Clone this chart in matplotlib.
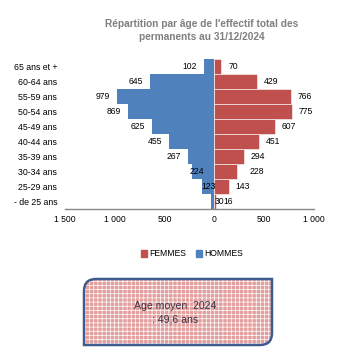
import numpy as np
import matplotlib.pyplot as plt
from matplotlib.path import Path
from matplotlib.patches import PathPatch, Patch
from matplotlib.ticker import FuncFormatter

plt.rcParams['font.family'] = ['Liberation Sans', 'DejaVu Sans']
plt.rcParams['hatch.color'] = 'white'
plt.rcParams['hatch.linewidth'] = 0.5

# age groups, from youngest (bottom) to oldest (top)
age_groups = ['- de 25 ans', '25-29 ans', '30-34 ans', '35-39 ans', '40-44 ans',
              '45-49 ans', '50-54 ans', '55-59 ans', '60-64 ans', '65 ans et +']
hommes = [30, 123, 224, 267, 455, 625, 869, 979, 645, 102]
femmes = [16, 143, 228, 294, 451, 607, 775, 766, 429, 70]
x_ticks = [-1500, -1000, -500, 0, 500, 1000]

BLUE = '#4f81bd'
RED = '#c0504d'
W, H = 339, 358

# extra shift (points) of some data labels, as placed in the original
men_nudge = [14, 15, 14, 0, 0, 0, 0, 0, 0, 0]
women_nudge = [0, 0, 4, 0, 0, 0, 0, 0, 0, 0]

fig = plt.figure(figsize=(W / 100, H / 100), dpi=100)
ax = fig.add_axes([65 / W, 1 - 209 / H, 249 / W, 150 / H])

y = np.arange(len(age_groups))
ax.barh(y, -np.array(hommes), height=1.0, color=BLUE, linewidth=0)
ax.barh(y, femmes, height=1.0, color=RED, edgecolor='white', linewidth=0.4)

for i in range(len(age_groups)):
    ax.annotate(str(hommes[i]), (-hommes[i], y[i]), xytext=(-5 + men_nudge[i], 0),
                textcoords='offset points', ha='right', va='center', fontsize=6.2)
    ax.annotate(str(femmes[i]), (femmes[i], y[i]), xytext=(5 + women_nudge[i], 0),
                textcoords='offset points', ha='left', va='center', fontsize=6.2)

ax.set_xlim(-1500, 1000)
ax.set_ylim(-0.5, len(age_groups) - 0.5)
ax.set_yticks(y)
ax.set_yticklabels(age_groups, fontsize=6.3)
ax.set_xticks(x_ticks)
ax.xaxis.set_major_formatter(FuncFormatter(lambda v, p: f"{abs(int(v)):,}".replace(',', ' ')))
ax.tick_params(axis='y', length=0, pad=5.5)
ax.tick_params(axis='x', length=0, pad=4, labelsize=6.2)
for s in ['top', 'right', 'left']:
    ax.spines[s].set_visible(False)
ax.spines['bottom'].set_color('#868686')
ax.spines['bottom'].set_linewidth(1.0)

fig.text(202 / W, 1 - 30.5 / H, "Répartition par âge de l'effectif total des\npermanents au 31/12/2024",
         ha='center', va='center', fontsize=7.3, fontweight='bold', color='#7f7f7f',
         linespacing=1.3)

handles = [Patch(color=RED, label='FEMMES'), Patch(color=BLUE, label='HOMMES')]
fig.legend(handles=handles, loc='center', bbox_to_anchor=(192 / W, 1 - 254 / H), ncol=2,
           frameon=False, fontsize=6.2, handlelength=0.7, handleheight=0.7,
           handletextpad=0.2, columnspacing=1.2)

# text box with the average age
bx = fig.add_axes([0, 0, 1, 1])
bx.set_xlim(0, W)
bx.set_ylim(H, 0)
bx.axis('off')
x0, x1, y0, y1, r = 84, 272, 279, 345, 12
verts = [(x0 + r, y0), (x1, y0), (x1, y1 - r), (x1, y1), (x1 - r, y1),
         (x0, y1), (x0, y0 + r), (x0, y0), (x0 + r, y0), (x0 + r, y0)]
codes = [Path.MOVETO, Path.LINETO, Path.LINETO, Path.CURVE3, Path.CURVE3,
         Path.LINETO, Path.LINETO, Path.CURVE3, Path.CURVE3, Path.CLOSEPOLY]
shape = Path(verts, codes)
bx.add_patch(PathPatch(shape, facecolor='#e39e9e', edgecolor='white', linewidth=0, hatch='+' * 4))
bx.add_patch(PathPatch(shape, facecolor='none', edgecolor='#3e5d8e', linewidth=1.8))
bx.text(175, 313, "Age moyen  2024\n: 49,6 ans", ha='center', va='center',
        fontsize=7.6, color='#3a3444', linespacing=1.5)

fig.savefig('out.png', dpi=100)
